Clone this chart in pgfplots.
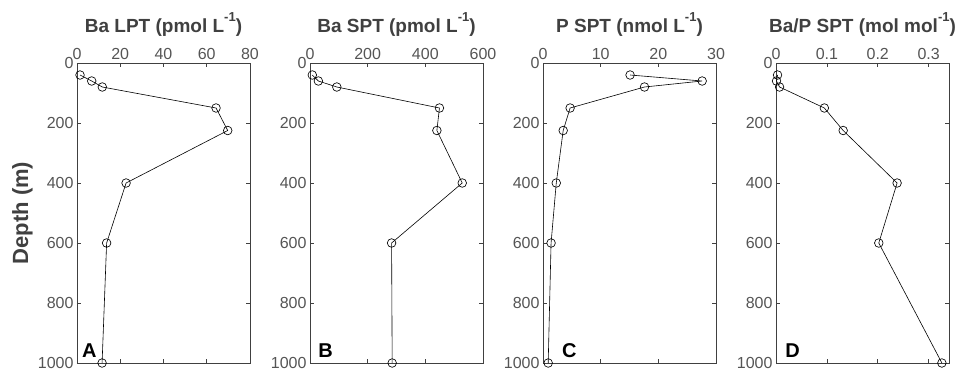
\documentclass[border=0pt]{standalone}
\usepackage{pgfplots}
\pgfplotsset{compat=1.18}
\usepackage{fontspec}
\setmainfont{Liberation Sans}
\definecolor{axgray}{HTML}{404040}
\definecolor{tkgray}{HTML}{555555}
\pgfplotsset{
  panel/.style={
    scale only axis, width=173pt, height=300pt,
    anchor=north west,
    y dir=reverse, ymin=0, ymax=1000, ytick={0,200,...,1000},
    xticklabel pos=upper,
    tick align=inside, tick pos=both,
    major tick length=4pt,
    axis line style={axgray, line width=0.6pt},
    every tick/.style={axgray, line width=0.6pt},
    tick label style={font=\fontsize{16}{17}\selectfont, text=tkgray},
    /pgf/number format/assume math mode=true,
    /pgf/number format/1000 sep={},
    scaled x ticks=false,
    xticklabel style={/pgf/number format/fixed},
    yticklabel style={/pgf/number format/fixed},
    title style={at={(0.5,1)}, anchor=base, yshift=25pt,
      font=\bfseries\fontsize{19}{20}\selectfont, text=axgray},
    clip=false,
  },
  prof/.style={black, line width=0.6pt, mark=o, mark size=4.3pt,
    mark options={solid, line width=0.65pt}},
}
\newcommand{\lett}[1]{\fontsize{20}{20}\selectfont\bfseries #1}
\newcommand{\supx}[1]{\raisebox{0.55em}{\fontsize{13}{13}\selectfont #1}}
\begin{document}
\begin{tikzpicture}
\begin{axis}[panel, at={(77pt,-63pt)},
  xmin=0, xmax=80, xtick={0,20,...,80},
  title={Ba LPT (pmol L\supx{-1})},
  ylabel={Depth (m)},
  ylabel style={at={(axis description cs:-0.235,0.5)}, anchor=south,
    font=\bfseries\fontsize{22}{24}\selectfont, text=axgray}]
\addplot[prof] coordinates {(1.4,40) (6.8,60) (11.7,80) (64.3,150) (69.7,225) (22.7,400) (13.7,600) (11.6,1000)};
\node[anchor=base west, inner sep=0pt] at (axis cs:2.3,983) {\lett{A}};
\end{axis}
\begin{axis}[panel, at={(310pt,-63pt)},
  xmin=0, xmax=600, xtick={0,200,...,600},
  title={Ba SPT (pmol L\supx{-1})}]
\addplot[prof] coordinates {(8,40) (29,60) (93,80) (449,150) (440,225) (528,400) (283,600) (285,1000)};
\node[anchor=base west, inner sep=0pt] at (axis cs:28,983) {\lett{B}};
\end{axis}
\begin{axis}[panel, at={(543pt,-63pt)},
  xmin=0, xmax=30, xtick={0,10,...,30},
  title={P SPT (nmol L\supx{-1})}]
\addplot[prof] coordinates {(15.1,40) (27.6,60) (17.6,80) (4.7,150) (3.5,225) (2.3,400) (1.4,600) (0.9,1000)};
\node[anchor=base west, inner sep=0pt] at (axis cs:3.3,983) {\lett{C}};
\end{axis}
\begin{axis}[panel, at={(776pt,-63pt)},
  xmin=0, xmax=0.34, xtick={0,0.1,0.2,0.3},
  title={Ba/P SPT (mol mol\supx{-1})}]
\addplot[prof] coordinates {(0.003,40) (0.001,60) (0.007,80) (0.095,150) (0.132,225) (0.238,400) (0.202,600) (0.326,1000)};
\node[anchor=base west, inner sep=0pt] at (axis cs:0.018,983) {\lett{D}};
\end{axis}
\pgfresetboundingbox
\path[use as bounding box] (0pt,0pt) rectangle (956pt,-372pt);
\end{tikzpicture}
\end{document}
